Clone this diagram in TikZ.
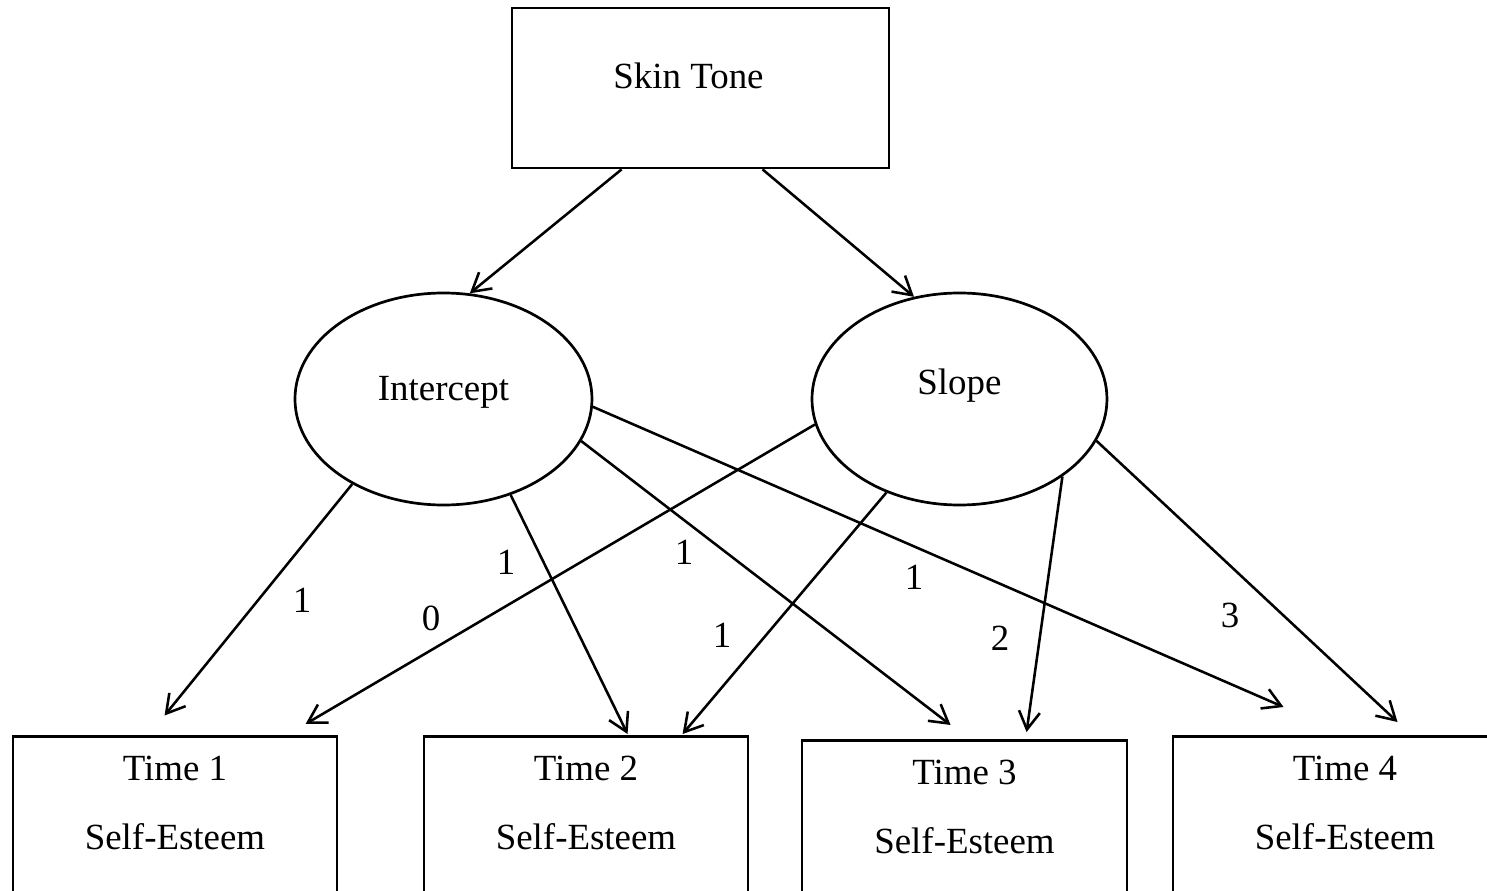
\documentclass[tikz,border=0pt]{standalone}
\usepackage{fontspec}
\setmainfont{Liberation Serif}
\usetikzlibrary{positioning,shapes.geometric,arrows.meta}

\begin{document}
\begin{tikzpicture}[x=1pt,y=-1pt,
  font=\fontsize{12.3}{23}\selectfont,
  obs/.style={draw,line width=0.95pt,rectangle,inner sep=0pt},
  latent/.style={draw,line width=0.9pt,ellipse,inner sep=0pt,minimum width=99pt,minimum height=70.67pt},
  wave/.style={obs,anchor=north,align=center,inner ysep=6.6pt,text depth=50pt},
  load/.style={line width=0.85pt,-{Straight Barb[length=6pt,width=7pt]}},
  coef/.style={inner sep=1pt}]
\useasboundingbox (0,0) rectangle (495.67,297);
\node[obs,minimum width=125.67pt,minimum height=53.33pt,text depth=8.3pt] (skin) at (233.5,29.33) {Skin Tone\kern8pt};
\node[latent,on grid,below left=103.67pt and 85.67pt of skin,text depth=6.9pt] (ic) {Intercept};
\node[latent,on grid,right=172pt of ic,minimum width=98.33pt,text depth=11.7pt] (sl) {Slope};
\node[wave,minimum width=108pt] (t1) at (58.33,245) {Time 1\\Self-Esteem};
\node[wave,minimum width=108pt,right=137pt of t1.north,anchor=north] (t2) {Time 2\\Self-Esteem};
\node[wave,minimum width=108.33pt,below right=1.33pt and 126.17pt of t2.north,anchor=north] (t3) {Time 3\\Self-Esteem};
\node[wave,minimum width=114.67pt,above right=1.33pt and 126.83pt of t3.north,anchor=north] (t4) {Time 4\\Self-Esteem};

\draw[load] ([xshift=37pt]skin.south west) -- (ic.76);
\draw[load] ([xshift=84pt]skin.south west) -- (sl.114);
\draw[load] (ic.223) -- ([xshift=51pt,yshift=6.5pt]t1.north west);
\draw[load] (ic.305) -- ([xshift=68.33pt,yshift=0.33pt]t2.north west);
\draw[load] (ic.343) -- ([xshift=50pt,yshift=4.67pt]t3.north west);
\draw[load] (ic.357) -- ([xshift=37.33pt,yshift=9.33pt]t4.north west);
\draw[load] (sl.190) -- ([xshift=98pt,yshift=3.67pt]t1.north west);
\draw[load] (sl.232) -- ([xshift=86.67pt,yshift=0.33pt]t2.north west);
\draw[load] (sl.323) -- ([xshift=75.33pt,yshift=2.33pt]t3.north west);
\draw[load] (sl.343) -- ([xshift=75.33pt,yshift=4.33pt]t4.north west);

\node[coef] (w11) at (100.67,200) {1};
\node[coef] (w12) at (168.67,187.33) {1};
\node[coef] (w13) at (228,184) {1};
\node[coef] (w14) at (304.67,192.33) {1};
\node[coef] (w21) at (143.67,206) {0};
\node[coef] (w22) at (240.67,211.67) {1};
\node[coef] (w23) at (333.33,212.67) {2};
\node[coef] (w24) at (410,205) {3};
\end{tikzpicture}
\end{document}
